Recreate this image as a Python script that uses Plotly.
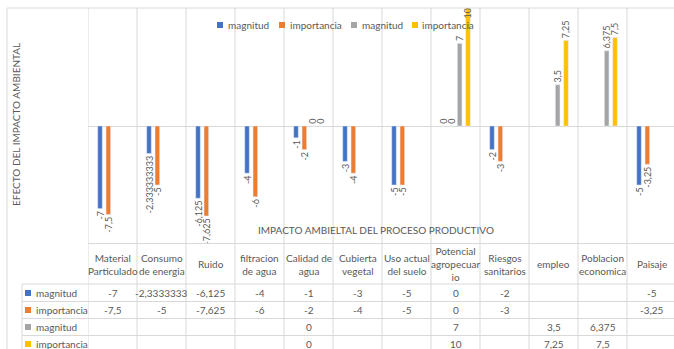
import plotly.graph_objects as go

categories = ["Material Particulado", "Consumo de energia", "Ruido", "filtracion de agua",
              "Calidad de agua", "Cubierta vegetal", "Uso actual del suelo",
              "Potencial agropecuario", "Riesgos sanitarios", "empleo",
              "Poblacion economica", "Paisaje"]
category_labels = ["Material<br>Particulado", "Consumo<br>de energia", "Ruido", "filtracion<br>de agua",
                   "Calidad de<br>agua", "Cubierta<br>vegetal", "Uso actual<br>del suelo",
                   "Potencial<br>agropecuar<br>io", "Riesgos<br>sanitarios", "empleo",
                   "Poblacion<br>economica", "Paisaje"]

magnitud_1 = [-7, -2.3333333333, -6.125, -4, -1, -3, -5, 0, -2, None, None, -5]
importancia_1 = [-7.5, -5, -7.625, -6, -2, -4, -5, 0, -3, None, None, -3.25]
magnitud_2 = [None, None, None, None, 0, None, None, 7, None, 3.5, 6.375, None]
importancia_2 = [None, None, None, None, 0, None, None, 10, None, 7.25, 7.5, None]

series_names = ["magnitud", "importancia", "magnitud", "importancia"]
series_values = [magnitud_1, importancia_1, magnitud_2, importancia_2]
colors = ["#4472C4", "#ED7D31", "#A5A5A5", "#FFC000"]

Y_MIN, Y_MAX = -10, 10
TXT = "#595959"
GRID = "#D9D9D9"
FONT = "Lato"

W, H = 674, 349
L, T = 88, 8
PLOT_BOTTOM = 244
PLOT_W = W - L
PLOT_H = PLOT_BOTTOM - T
CAT_W = 49
NB = "\u00a0"


def fmt(v, sig):
    if v is None:
        return ""
    return f"{v:.{sig}g}".replace(".", ",")


def bar_label(v):
    # small gap between bar end and the rotated label
    if v is None:
        return ""
    s = fmt(v, 10)
    if v >= Y_MAX:
        return s
    return s + NB if v < 0 else NB + s


def px_x(p):
    return (p - L) / PLOT_W


def px_y(p):
    return (PLOT_BOTTOM - p) / PLOT_H


fig = go.Figure()
for name, vals, col in zip(series_names, series_values, colors):
    positions = ["inside" if (v is not None and v >= Y_MAX) else "outside" for v in vals]
    fig.add_trace(go.Bar(
        x=categories, y=vals, name=name, marker_color=col,
        text=[bar_label(v) for v in vals], textposition=positions, textangle=-90,
        insidetextanchor="end",
        textfont=dict(family=FONT, size=9, color=TXT),
        insidetextfont=dict(family=FONT, size=9, color=TXT),
        outsidetextfont=dict(family=FONT, size=9, color=TXT),
        constraintext="none", cliponaxis=False, showlegend=False,
    ))

x_end = -0.5 + PLOT_W / CAT_W
fig.update_layout(
    width=W, height=H,
    margin=dict(l=L, r=0, t=T, b=H - PLOT_BOTTOM, pad=0),
    paper_bgcolor="white", plot_bgcolor="white",
    barmode="group", bargap=0.32, bargroupgap=0.45,
    font=dict(family=FONT, size=9, color=TXT),
    xaxis=dict(range=[-0.5, x_end], showticklabels=False, showgrid=False,
               zeroline=False, showline=False, ticks=""),
    yaxis=dict(range=[Y_MIN, Y_MAX], showticklabels=False, showgrid=False,
               zeroline=True, zerolinecolor=GRID, zerolinewidth=1, showline=False, ticks=""),
)

shapes = []
# chart border (top/left)
shapes.append(dict(type="line", xref="paper", yref="paper", x0=px_x(7), x1=px_x(W + 5),
                   y0=px_y(8), y1=px_y(8), line=dict(color=GRID, width=1)))
shapes.append(dict(type="line", xref="paper", yref="paper", x0=px_x(7), x1=px_x(7),
                   y0=px_y(8), y1=px_y(H + 5), line=dict(color=GRID, width=1)))
# vertical category boundaries spanning plot and table
for i in range(len(categories) + 1):
    shapes.append(dict(type="line", xref="x", yref="paper", x0=i - 0.5, x1=i - 0.5,
                       y0=px_y(8), y1=px_y(H + 5), line=dict(color=GRID, width=1)))
# table horizontal lines
shapes.append(dict(type="line", xref="paper", yref="paper", x0=0, x1=px_x(W + 5),
                   y0=px_y(243.5), y1=px_y(243.5), line=dict(color=GRID, width=1)))
row_lines = [284, 301.5, 318.5, 335.5]
for yl in row_lines:
    shapes.append(dict(type="line", xref="paper", yref="paper", x0=px_x(22), x1=px_x(W + 5),
                       y0=px_y(yl), y1=px_y(yl), line=dict(color=GRID, width=1)))
shapes.append(dict(type="line", xref="paper", yref="paper", x0=px_x(22), x1=px_x(22),
                   y0=px_y(284), y1=px_y(H + 5), line=dict(color=GRID, width=1)))

annotations = []
# legend at top
legend_x = [217, 279, 351, 412]
for lx, name, col in zip(legend_x, series_names, colors):
    shapes.append(dict(type="rect", xref="paper", yref="paper", x0=px_x(lx), x1=px_x(lx + 6),
                       y0=px_y(28), y1=px_y(22), fillcolor=col, line=dict(width=0)))
    annotations.append(dict(xref="paper", yref="paper", x=px_x(lx + 8.5), y=px_y(25),
                            xanchor="left", yanchor="middle", showarrow=False, text=name,
                            font=dict(family=FONT, size=10, color=TXT)))

# header row (category names)
for cat, lab in zip(categories, category_labels):
    annotations.append(dict(xref="x", yref="paper", x=cat, y=px_y(264), xanchor="center",
                            yanchor="middle", showarrow=False, text=lab,
                            font=dict(family=FONT, size=10, color=TXT)))

# table rows
row_centers = [293, 310, 327, 344]
for yc, name, vals, col in zip(row_centers, series_names, series_values, colors):
    shapes.append(dict(type="rect", xref="paper", yref="paper", x0=px_x(25), x1=px_x(31),
                       y0=px_y(yc + 3), y1=px_y(yc - 3), fillcolor=col, line=dict(width=0)))
    annotations.append(dict(xref="paper", yref="paper", x=px_x(33.5), y=px_y(yc),
                            xanchor="left", yanchor="middle", showarrow=False, text=name,
                            font=dict(family=FONT, size=10, color=TXT)))
    for cat, v in zip(categories, vals):
        if v is None:
            continue
        annotations.append(dict(xref="x", yref="paper", x=cat, y=px_y(yc), xanchor="center",
                                yanchor="middle", showarrow=False, text=fmt(v, 8),
                                font=dict(family=FONT, size=10, color=TXT)))

# axis titles
annotations.append(dict(xref="paper", yref="paper", x=px_x(376), y=px_y(230),
                        xanchor="center", yanchor="middle", showarrow=False,
                        text="IMPACTO AMBIELTAL DEL PROCESO PRODUCTIVO",
                        font=dict(family=FONT, size=10, color=TXT)))
annotations.append(dict(xref="paper", yref="paper", x=px_x(16), y=px_y(125),
                        xanchor="center", yanchor="middle", showarrow=False, textangle=-90,
                        text="EFECTO DEL IMPACTO AMBIENTAL",
                        font=dict(family=FONT, size=10, color=TXT)))

fig.update_layout(shapes=shapes, annotations=annotations)
fig.write_html("out.html")
